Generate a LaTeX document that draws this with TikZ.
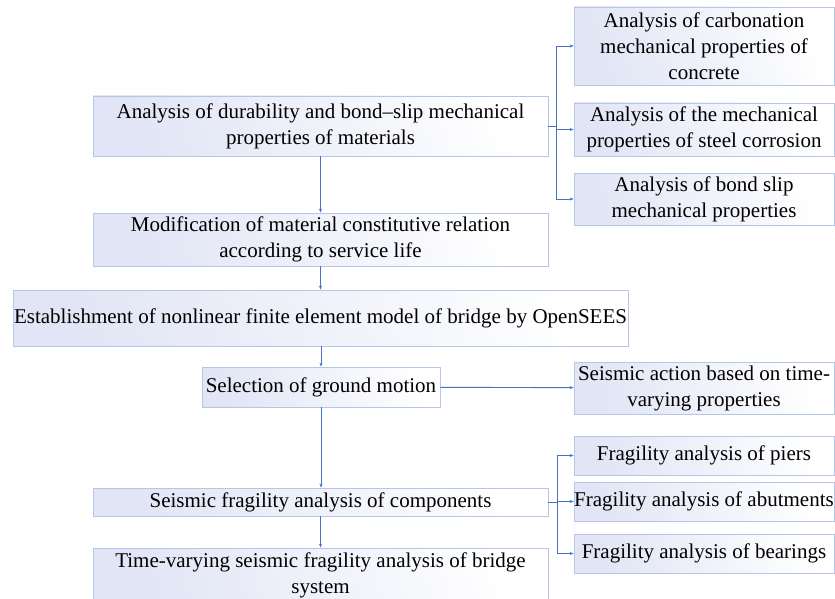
\documentclass[tikz,border=0pt]{standalone}
\usepackage{fontspec}
\setmainfont{Liberation Serif}
\usepackage{tikz}
\usetikzlibrary{positioning, arrows.meta}

\definecolor{boxline}{RGB}{180,199,231}
\definecolor{boxfill}{RGB}{225,229,245}
\definecolor{linkblue}{RGB}{68,114,196}

\begin{document}
\begin{tikzpicture}[x=1pt, y=-1pt,
    main/.style = {draw=boxline, line width=0.8pt, left color=boxfill, right color=white,
        shading angle=110, align=center, inner sep=0pt,
        font=\fontsize{21}{26}\selectfont},
    side/.style = {main, minimum width=260},
    link/.style = {draw=linkblue, line width=0.9pt, -{Stealth[length=4pt, width=3pt]}}]
    \useasboundingbox (0,0) rectangle (835,599);

    \node[main, minimum width=455, minimum height=60] (dur) at (320.5,126) {Analysis of durability and bond--slip mechanical\\properties of materials};
    \node[main, minimum width=455, minimum height=53] (mod) at (320.5,239.5) {Modification of material constitutive relation\\according to service life};
    \node[main, minimum width=615, minimum height=56] (fem) at (320.5,318) {Establishment of nonlinear finite element model of bridge by OpenSEES};
    \node[main, minimum width=238, minimum height=40] (gm) at (321,387) {Selection of ground motion};
    \node[main, minimum width=455, minimum height=28] (comp) at (320.5,502) {Seismic fragility analysis of components};
    \node[main, minimum width=455, minimum height=54] (sys) at (320.5,575) {Time-varying seismic fragility analysis of bridge\\system};

    \node[side, minimum height=78] (carb) at (704,46) {Analysis of carbonation\\mechanical properties of\\concrete};
    \node[side, minimum height=53] (steel) at (704,129.5) {Analysis of the mechanical\\properties of steel corrosion};
    \node[side, minimum height=52] (bond) at (704,199) {Analysis of bond slip\\mechanical properties};
    \node[side, minimum height=52] (act) at (704,388) {Seismic action based on time-\\varying properties};
    \node[side, minimum height=39] (pier) at (704,455.5) {Fragility analysis of piers};
    \node[side, minimum height=39] (abut) at (704,501.5) {Fragility analysis of abutments};
    \node[side, minimum height=39] (bear) at (704,553.5) {Fragility analysis of bearings};

    \draw[link] (dur) -- (mod);
    \draw[link] (mod) -- (mod |- fem.north);
    \draw[link] (fem.south -| gm) -- (gm);
    \draw[link] (gm) -- (gm |- comp.north);
    \draw[link] (comp) -- (sys);

    \draw[link] (dur.east) -- ++(8,0) |- (carb.west);
    \draw[link] (dur.east) -- ++(8,0) |- (steel.west);
    \draw[link] (dur.east) -- ++(8,0) |- (bond.west);
    \draw[link] (gm) -- (act);
    \draw[link] (comp.east) -- ++(9,0) |- (pier.west);
    \draw[link] (comp.east) -- ++(9,0) |- (abut.west);
    \draw[link] (comp.east) -- ++(9,0) |- (bear.west);
\end{tikzpicture}
\end{document}
